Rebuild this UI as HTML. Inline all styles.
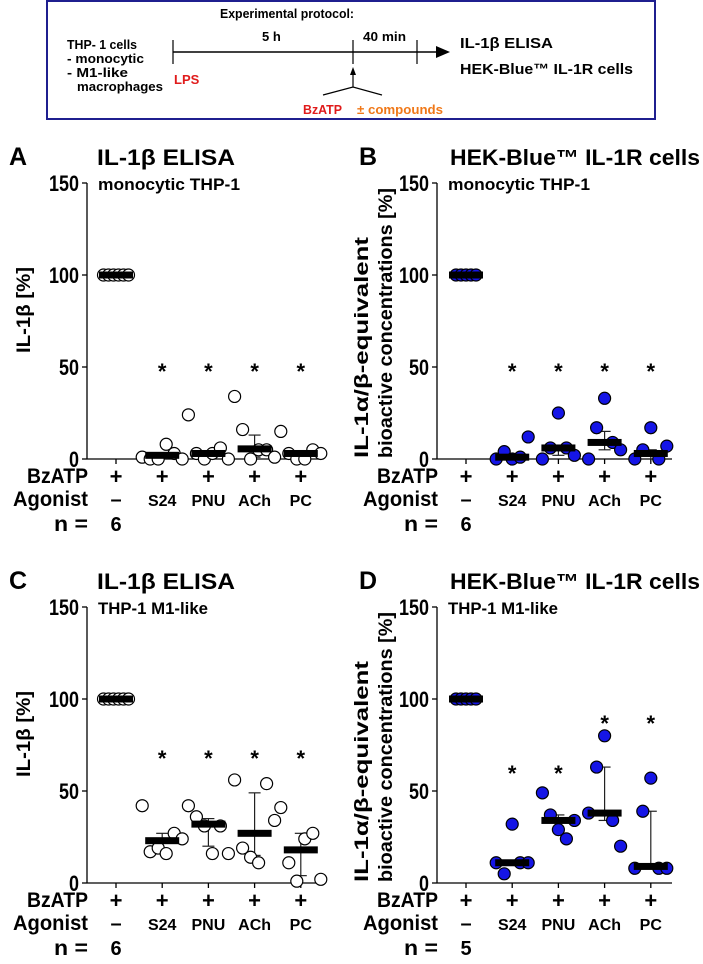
<!DOCTYPE html>
<html><head><meta charset="utf-8">
<style>
html,body{margin:0;padding:0;background:#fff;}
svg{display:block;font-family:"Liberation Sans",Arial,sans-serif;}
.b{font-weight:bold;}
</style></head>
<body>
<svg id="fig" width="703" height="964" viewBox="0 0 703 964" xmlns="http://www.w3.org/2000/svg">
 <g>
  <rect x="47" y="1" width="608" height="118" fill="#fff" stroke="#1f1f8f" stroke-width="2"/>
  <text x="220" y="18" font-size="13" class="b" textLength="134" lengthAdjust="spacingAndGlyphs">Experimental protocol:</text>
  <text x="67" y="49" font-size="13" class="b" textLength="70" lengthAdjust="spacingAndGlyphs">THP- 1 cells</text>
  <text x="67" y="63" font-size="13" class="b" textLength="77" lengthAdjust="spacingAndGlyphs">- monocytic</text>
  <text x="67" y="77" font-size="13" class="b" textLength="61" lengthAdjust="spacingAndGlyphs">- M1-like</text>
  <text x="77" y="91" font-size="13" class="b" textLength="86" lengthAdjust="spacingAndGlyphs">macrophages</text>
  <line x1="173" y1="52" x2="440" y2="52" stroke="#000" stroke-width="1.5"/>
  <polygon points="450,52 436,46 436,58" fill="#000"/>
  <line x1="173" y1="40" x2="173" y2="64" stroke="#000" stroke-width="1.2"/>
  <line x1="353" y1="40" x2="353" y2="64" stroke="#000" stroke-width="1.2"/>
  <line x1="417" y1="40" x2="417" y2="64" stroke="#000" stroke-width="1.2"/>
  <line x1="353" y1="74" x2="353" y2="87" stroke="#000" stroke-width="1.2"/>
  <polygon points="353,67 350,75 356,75" fill="#000"/>
  <polyline points="323,95 353,87 382,95" fill="none" stroke="#000" stroke-width="1.2"/>
  <text x="262" y="41" font-size="13" class="b">5 h</text>
  <text x="363" y="41" font-size="13" class="b" textLength="43" lengthAdjust="spacingAndGlyphs">40 min</text>
  <text x="174" y="84" font-size="13" class="b" fill="#e01b1b">LPS</text>
  <text x="303" y="114" font-size="13" class="b" fill="#e01b1b" textLength="39" lengthAdjust="spacingAndGlyphs">BzATP</text>
  <text x="357" y="114" font-size="13" class="b" fill="#f07818" textLength="86" lengthAdjust="spacingAndGlyphs">± compounds</text>
  <text x="460" y="48" font-size="15" class="b" textLength="93" lengthAdjust="spacingAndGlyphs">IL-1β ELISA</text>
  <text x="460" y="74" font-size="15" class="b" textLength="173" lengthAdjust="spacingAndGlyphs">HEK-Blue™ IL-1R cells</text>
 </g>
 <g id="panels"></g>
</svg>
<script>
const categories = ["ctrl","S24","PNU","ACh","PC"];
const agonistLabels = ["–","S24","PNU","ACh","PC"];
const yTicks = [0,50,100,150];
// Panel A values
const aCtrl=[100,100,100,100,100,100], aS24=[1,0,0,8,3,0], aPNU=[24,3,0,3,6,0], aACh=[34,16,0,5,5,1], aPC=[15,3,0,0,5,3];
const aMed=[100,2,3,5.5,3], aLo=[100,0,0,1,0], aHi=[100,2,4,13,4], aStar=[null,50,50,50,50];
// Panel B values
const bCtrl=[100,100,100,100,100], bS24=[0,4,0,1,12], bPNU=[0,6,25,6,2], bACh=[0,17,33,9,5], bPC=[0,5,17,0,7];
const bMed=[100,1,6,9,3], bLo=[100,0,2,5,0], bHi=[100,2,6,15,5], bStar=[null,50,50,50,50];
// Panel C values
const cCtrl=[100,100,100,100,100,100], cS24=[42,17,19,16,27,24], cPNU=[42,36,31,16,31,16], cACh=[56,19,14,11,54,34], cPC=[41,11,1,24,27,2];
const cMed=[100,23,32,27,18], cLo=[100,18,20,15,4], cHi=[100,27,35,49,27], cStar=[null,70,70,70,70];
// Panel D values
const dCtrl=[100,100,100,100,100], dS24=[11,5,32,11,11], dPNU=[49,37,29,24,34], dACh=[38,63,80,34,20], dPC=[8,39,57,8,8];
const dMed=[100,11,34,38,9], dLo=[100,11,29,34,9], dHi=[100,11,37,63,39], dStar=[null,62,62,89,89];

const NS="http://www.w3.org/2000/svg";
const root=document.getElementById('panels');
function el(tag,attrs,parent){const e=document.createElementNS(NS,tag);for(const k in attrs)e.setAttribute(k,attrs[k]);(parent||root).appendChild(e);return e;}
function txt(s,attrs,parent){const e=el('text',attrs,parent);e.textContent=s;return e;}

function panel(o){
  const g=el('g',{});
  
  
  const y0=o.zero, k=1.84;
  const ys=v=>y0-v*k;
  const xs=i=>o.ax+29+i*46.2;
  const lt=txt(o.letter,{x:o.ax-78,y:y0-294,'font-size':25,'font-weight':'bold'},g);
  
  
  const tt=txt(o.title,{x:o.ax+o.tdx,y:y0-294,'font-size':22,'font-weight':'bold',textLength:o.tLen,lengthAdjust:'spacingAndGlyphs'},g);
  
  
  const st=txt(o.sub,{x:o.ax+11,y:y0-269,'font-size':17,'font-weight':'bold',textLength:o.subLen,lengthAdjust:'spacingAndGlyphs'},g);
  
  
  const ya=el('line',{x1:o.ax,y1:ys(150),x2:o.ax,y2:y0,stroke:'#000','stroke-width':1.3},g);
  
  
  const xa=el('line',{x1:o.ax,y1:y0,x2:o.ax+235,y2:y0,stroke:'#000','stroke-width':1.3},g);
  
  
  yTicks.forEach(t=>{
    el('line',{x1:o.ax-5,y1:ys(t),x2:o.ax,y2:ys(t),stroke:'#000','stroke-width':1.3},g);
    const s=String(t);
    const tl=txt(s,{x:o.ax-8,y:ys(t)+8,'font-size':22,'font-weight':'bold','text-anchor':'end',textLength:s.length*10,lengthAdjust:'spacingAndGlyphs'},g);
    
    
  });
  o.ytitle.forEach((s,j)=>{
    const yx=o.ax-o.ytx+j*24;
    const yt=txt(s,{x:0,y:0,'font-size':19,'font-weight':'bold','text-anchor':'start',textLength:o.yLen[j],lengthAdjust:'spacingAndGlyphs',transform:`translate(${yx},${y0-o.ytb}) rotate(-90)`},g);
    
    
  });
  const rl=[['BzATP',24,61],['Agonist',47,75],['n =',72,34]];
  rl.forEach(r=>{
    const l=txt(r[0],{x:o.ax+1,y:y0+r[1],'font-size':21,'font-weight':'bold','text-anchor':'end',textLength:r[2],lengthAdjust:'spacingAndGlyphs'},g);
    
    
  });
  categories.forEach((c,i)=>{
    el('line',{x1:xs(i),y1:y0,x2:xs(i),y2:y0+5,stroke:'#000','stroke-width':1.3},g);
    const p=txt('+',{x:xs(i),y:y0+25,'font-size':22,'font-weight':'bold','text-anchor':'middle'},g);
    
    
    const a=txt(agonistLabels[i],{x:xs(i),y:y0+47,'font-size':i==0?20:16,'font-weight':'bold','text-anchor':'middle'},g);
    
    
  });
  const nl=txt(String(o.n),{x:xs(0),y:y0+72,'font-size':20,'font-weight':'bold','text-anchor':'middle'},g);
  
  
  o.series.forEach((vals,i)=>{
    const cx=xs(i);
    if(o.hi[i]!==o.lo[i]){
      el('line',{x1:cx,y1:ys(o.hi[i]),x2:cx,y2:ys(o.lo[i]),stroke:'#222','stroke-width':1.2},g);
      el('line',{x1:cx-6,y1:ys(o.hi[i]),x2:cx+6,y2:ys(o.hi[i]),stroke:'#222','stroke-width':1.2},g);
      el('line',{x1:cx-6,y1:ys(o.lo[i]),x2:cx+6,y2:ys(o.lo[i]),stroke:'#222','stroke-width':1.2},g);
    }
    const m=vals.length;
    vals.forEach((v,j)=>{
      const off=(j-(m-1)/2)*(i==0?5:8);
      const c=el('circle',{cx:cx+off,cy:ys(v),r:6,fill:o.fill,stroke:'#000','stroke-width':1.2},g);
      
      
    });
    const bar=el('rect',{x:cx-17,y:ys(o.med[i])-3.5,width:34,height:7,fill:'#000'},g);
    
    
    if(o.star[i]!=null){
      const s=txt('*',{x:cx,y:ys(o.star[i])+12,'font-size':22,'font-weight':'bold','text-anchor':'middle'},g);
      
      
    }
  });
}
const elisaTitle=['IL-1β [%]'], hekTitle=['IL-1α/β-equivalent','bioactive concentrations [%]'];
panel({letter:'A',title:'IL-1β ELISA',tLen:138,tdx:10,sub:'monocytic THP-1',subLen:142,ax:87,zero:459,fill:'#fff',n:6,
  ytitle:elisaTitle,yLen:[86],ytx:57,ytb:106,series:[aCtrl,aS24,aPNU,aACh,aPC],med:aMed,lo:aLo,hi:aHi,star:aStar});
panel({letter:'B',title:'HEK-Blue™ IL-1R cells',tLen:250,tdx:13,sub:'monocytic THP-1',subLen:142,ax:437,zero:459,fill:'#1515e6',n:6,
  ytitle:hekTitle,yLen:[221,270],ytx:69,ytb:1,series:[bCtrl,bS24,bPNU,bACh,bPC],med:bMed,lo:bLo,hi:bHi,star:bStar});
panel({letter:'C',title:'IL-1β ELISA',tLen:138,tdx:10,sub:'THP-1 M1-like',subLen:110,ax:87,zero:883,fill:'#fff',n:6,
  ytitle:elisaTitle,yLen:[86],ytx:57,ytb:106,series:[cCtrl,cS24,cPNU,cACh,cPC],med:cMed,lo:cLo,hi:cHi,star:cStar});
panel({letter:'D',title:'HEK-Blue™ IL-1R cells',tLen:250,tdx:13,sub:'THP-1 M1-like',subLen:110,ax:437,zero:883,fill:'#1515e6',n:5,
  ytitle:hekTitle,yLen:[221,270],ytx:69,ytb:1,series:[dCtrl,dS24,dPNU,dACh,dPC],med:dMed,lo:dLo,hi:dHi,star:dStar});
</script>
</body></html>
